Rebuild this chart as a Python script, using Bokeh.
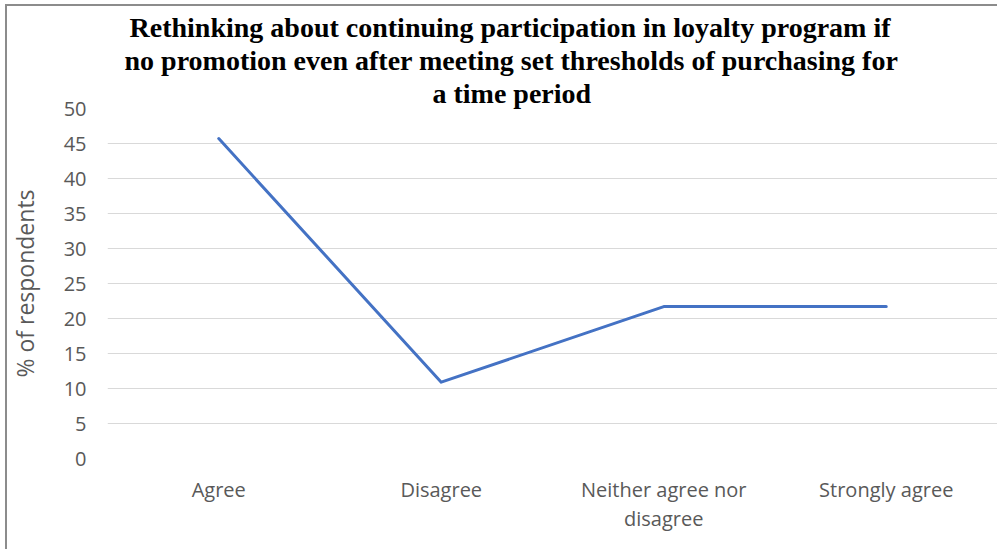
from bokeh.plotting import figure
from bokeh.models import FactorRange, Range1d, Title
from bokeh.embed import file_html
from bokeh.resources import INLINE

categories = ["Agree", "Disagree", "Neither agree nor\ndisagree", "Strongly agree"]
values = [45.7, 10.9, 21.7, 21.7]
y_ticks = [0, 5, 10, 15, 20, 25, 30, 35, 40, 45, 50]
title_lines = [
    "Rethinking about continuing participation in loyalty program if",
    "no promotion even after meeting set thresholds of purchasing for",
    "a time period",
]

p = figure(
    width=992, height=545,
    x_range=FactorRange(*categories, range_padding=0),
    y_range=Range1d(0, 50),
    output_backend="svg", toolbar_location=None,
    min_border_left=100, min_border_right=0, min_border_top=104, min_border_bottom=91,
    title=title_lines[0],
)
p.styles = {
    "margin-left": "5px",
    "margin-top": "4px",
    "box-shadow": "inset 2px 2px 0px 0px #8C8C8C",
}
p.outline_line_color = None
p.background_fill_color = "white"
p.border_fill_color = None

p.line(categories, values, line_color="#4472C4", line_width=3, line_cap="round", line_join="round")

# axes
p.yaxis.ticker = y_ticks
for ax in (p.xaxis, p.yaxis):
    ax.axis_line_color = None
    ax.major_tick_line_color = None
    ax.minor_tick_line_color = None
    ax.major_tick_out = 0
    ax.major_tick_in = 0
    ax.minor_tick_out = 0
    ax.minor_tick_in = 0
    ax.major_label_text_font = "Open Sans"
    ax.major_label_text_font_size = "20px"
    ax.major_label_text_color = "#595959"
p.yaxis.major_label_standoff = 21
p.xaxis.major_label_standoff = 17
p.xaxis.major_label_text_line_height = 1.1
p.yaxis.axis_label = "% of respondents"
p.yaxis.axis_label_text_font = "Open Sans"
p.yaxis.axis_label_text_font_size = "23px"
p.yaxis.axis_label_text_font_style = "normal"
p.yaxis.axis_label_text_color = "#595959"
p.yaxis.axis_label_standoff = 20

p.xgrid.grid_line_color = None
p.ygrid.grid_line_color = "#D9D9D9"
p.ygrid.grid_line_width = 1

# title: figure title is outermost; added titles stack outward from the frame
offsets = [22, 17, 325]


def style_title(t, off):
    t.align = "left"
    t.offset = off
    t.text_font = "Liberation Serif"
    t.text_font_style = "bold"
    t.text_font_size = "28px"
    t.text_color = "black"
    try:
        t.standoff = 0
    except Exception:
        pass


style_title(p.title, offsets[0])
for i in (2, 1):
    t = Title(text=title_lines[i])
    style_title(t, offsets[i])
    p.add_layout(t, "above")

open("out.html", "w").write(file_html(p, INLINE))
